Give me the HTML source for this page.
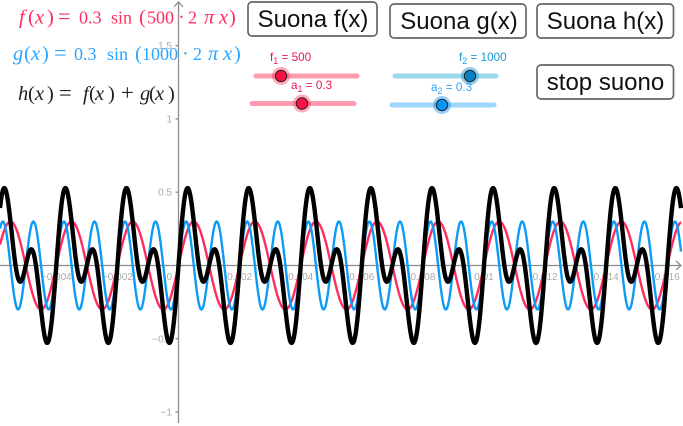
<!DOCTYPE html>
<html>
<head>
<meta charset="utf-8">
<style>
html,body{margin:0;padding:0;background:#fff;width:683px;height:426px;overflow:hidden}
svg{display:block;font-family:"Liberation Sans",sans-serif}
.btn rect{fill:#fff;stroke:#666;stroke-width:1.7}
.btn text{font-size:24px;fill:#111;text-anchor:middle}
.tick{font-size:10px;fill:#aaa}
.fm{font-family:"Liberation Serif",serif;font-size:20.5px}
.it{font-style:italic}
.num{font-size:18px}
.eq{font-size:22.5px}
.sl{font-size:11.7px}
.sub{font-size:9px}
</style>
</head>
<body>
<svg id="chart" width="683" height="426" viewBox="0 0 683 426" xmlns="http://www.w3.org/2000/svg">
<g id="axes"></g>
<g id="curves"></g>

<text class="fm" y="23.5" fill="#ff2d5f"><tspan class="it" x="19">f</tspan><tspan x="28">(</tspan><tspan class="it" x="35">x</tspan><tspan x="47">)</tspan><tspan class="eq" x="58">=</tspan><tspan class="num" x="79">0.3</tspan><tspan class="num" x="111">sin</tspan><tspan x="139">(</tspan><tspan class="num" x="147">500</tspan><tspan x="178">·</tspan><tspan class="num" x="188">2</tspan><tspan class="it" x="204">π</tspan><tspan class="it" x="219">x</tspan><tspan x="229">)</tspan></text>
<text class="fm" y="60" fill="#2aa5ff"><tspan class="it" x="13">g</tspan><tspan x="24">(</tspan><tspan class="it" x="31">x</tspan><tspan x="42">)</tspan><tspan class="eq" x="54">=</tspan><tspan class="num" x="74">0.3</tspan><tspan class="num" x="107">sin</tspan><tspan x="135">(</tspan><tspan class="num" x="142">1000</tspan><tspan x="182">·</tspan><tspan class="num" x="193">2</tspan><tspan class="it" x="208">π</tspan><tspan class="it" x="223">x</tspan><tspan x="234">)</tspan></text>
<text class="fm" y="100" fill="#222"><tspan class="it" x="18">h</tspan><tspan x="28">(</tspan><tspan class="it" x="35">x</tspan><tspan x="47">)</tspan><tspan class="eq" x="59">=</tspan><tspan class="it" x="83">f</tspan><tspan x="89">(</tspan><tspan class="it" x="95">x</tspan><tspan x="108">)</tspan><tspan class="eq" x="121">+</tspan><tspan class="it" x="140">g</tspan><tspan x="149">(</tspan><tspan class="it" x="155">x</tspan><tspan x="168">)</tspan></text>

<g class="btn"><rect x="248" y="2" width="129" height="34" rx="4"/><text x="313" y="27">Suona f(x)</text></g>
<g class="btn"><rect x="390" y="4" width="136" height="34" rx="4"/><text x="459" y="29">Suona g(x)</text></g>
<g class="btn"><rect x="537" y="4" width="136.5" height="34" rx="4"/><text x="605.5" y="29">Suona h(x)</text></g>
<g class="btn"><rect x="537" y="65" width="136.5" height="34" rx="4"/><text x="605.5" y="90">stop suono</text></g>

<g>
<line x1="256" y1="76" x2="357" y2="76" stroke="#ff9bb0" stroke-width="5" stroke-linecap="round"/>
<circle cx="281" cy="76" r="9" fill="#ff2d5f" fill-opacity=".4"/>
<circle cx="281" cy="76" r="5.7" fill="#ff0f45" stroke="#222" stroke-width="1"/>
<text class="sl" x="270" y="61" fill="#e8174f">f<tspan class="sub" dy="3">1</tspan><tspan dy="-3"> = 500</tspan></text>
</g>
<g>
<line x1="252" y1="103.5" x2="354" y2="103.5" stroke="#ff9bb0" stroke-width="5" stroke-linecap="round"/>
<circle cx="302" cy="103.5" r="9" fill="#ff2d5f" fill-opacity=".4"/>
<circle cx="302" cy="103.5" r="5.7" fill="#ff0f45" stroke="#222" stroke-width="1"/>
<text class="sl" x="291" y="89" fill="#e8174f">a<tspan class="sub" dy="3">1</tspan><tspan dy="-3"> = 0.3</tspan></text>
</g>
<g>
<line x1="395" y1="76" x2="496" y2="76" stroke="#9bd9ee" stroke-width="5" stroke-linecap="round"/>
<circle cx="470" cy="76" r="9" fill="#1a90d8" fill-opacity=".45"/>
<circle cx="470" cy="76" r="5.7" fill="#0a80c4" stroke="#222" stroke-width="1"/>
<text class="sl" x="459" y="61" fill="#1a9ad6">f<tspan class="sub" dy="3">2</tspan><tspan dy="-3"> = 1000</tspan></text>
</g>
<g>
<line x1="392" y1="105" x2="494" y2="105" stroke="#9dd6fb" stroke-width="5" stroke-linecap="round"/>
<circle cx="442" cy="105" r="9" fill="#1a95f0" fill-opacity=".45"/>
<circle cx="442" cy="105" r="5.7" fill="#0a94f5" stroke="#222" stroke-width="1"/>
<text class="sl" x="431" y="91" fill="#2aa5ff">a<tspan class="sub" dy="3">2</tspan><tspan dy="-3"> = 0.3</tspan></text>
</g>
</svg>
<script>
var xTickValues = [-0.004, -0.002, 0.002, 0.004, 0.006, 0.008, 0.01, 0.012, 0.014, 0.016];
var xTickLabels = ["−0.004", "−0.002", "0.002", "0.004", "0.006", "0.008", "0.01", "0.012", "0.014", "0.016"];
var yTickValues = [1.5, 1, 0.5, -0.5, -1];
var yTickLabels = ["1.5", "1", "0.5", "−0.5", "−1"];
var seriesNames = ["f", "g", "h"];
var amplitudes = [0.3, 0.3];
var frequencies = [500, 1000];

var NS = "http://www.w3.org/2000/svg";
var originX = 178.5, originY = 265.5, xScale = 30550, yScale = 146.6;
function xAxis(v) { return originX + v * xScale; }
function yAxis(v) { return originY - v * yScale; }
function invX(p) { return (p - originX) / xScale; }
function make(tag, attrs, parent) {
  var el = document.createElementNS(NS, tag);
  for (var k in attrs) el.setAttribute(k, attrs[k]);
  parent.appendChild(el);
  return el;
}
var axes = document.getElementById("axes");
var curves = document.getElementById("curves");
var axisStyle = { stroke: "#8c8c8c", "stroke-width": 1.3, fill: "none" };
function axisAttrs(extra) {
  var o = {};
  for (var k in axisStyle) o[k] = axisStyle[k];
  for (var j in extra) o[j] = extra[j];
  return o;
}
var xAxisLine = make("line", axisAttrs({ x1: 0, y1: originY, x2: 681, y2: originY }), axes);


var yAxisLine = make("line", axisAttrs({ x1: originX, y1: 2, x2: originX, y2: 423 }), axes);


var xArrow = make("path", axisAttrs({ d: "M676 261L681 265.5L676 270" }), axes);


var yArrow = make("path", axisAttrs({ d: "M174 7L178.5 2L183 7" }), axes);



xTickValues.forEach(function (v, i) {
  var px = xAxis(v);
  var t = make("line", axisAttrs({ x1: px, y1: originY, x2: px, y2: originY + 3 }), axes);
  
  
  var lab = make("text", { "class": "tick", x: px, y: 280, "text-anchor": "middle" }, axes);
  
  
  lab.textContent = xTickLabels[i];
});
yTickValues.forEach(function (v, i) {
  var py = yAxis(v);
  var t = make("line", axisAttrs({ x1: originX - 3, y1: py, x2: originX, y2: py }), axes);
  
  
  var lab = make("text", { "class": "tick", x: 172, y: py + 3.5, "text-anchor": "end" }, axes);
  
  
  lab.textContent = yTickLabels[i];
});
var originLabel = make("text", { "class": "tick", x: 172, y: 280, "text-anchor": "end" }, axes);


originLabel.textContent = "0";

function fVal(x) { return amplitudes[0] * Math.sin(frequencies[0] * 2 * Math.PI * x); }
function gVal(x) { return amplitudes[1] * Math.sin(frequencies[1] * 2 * Math.PI * x); }
function hVal(x) { return fVal(x) + gVal(x); }
function curvePath(fn) {
  var d = "";
  for (var p = 0; p <= 681; p += 0.5) {
    d += (p === 0 ? "M" : "L") + p.toFixed(1) + " " + yAxis(fn(invX(p))).toFixed(2);
  }
  return d;
}
var fCurve = make("path", { d: curvePath(fVal), fill: "none", stroke: "#ff2d5f", "stroke-width": 2.4, "stroke-linejoin": "round" }, curves);


var gCurve = make("path", { d: curvePath(gVal), fill: "none", stroke: "#0d9bf5", "stroke-width": 2.4, "stroke-linejoin": "round" }, curves);


var hCurve = make("path", { d: curvePath(hVal), fill: "none", stroke: "#000", "stroke-width": 4.4, "stroke-linejoin": "round" }, curves);


</script>
</body>
</html>
